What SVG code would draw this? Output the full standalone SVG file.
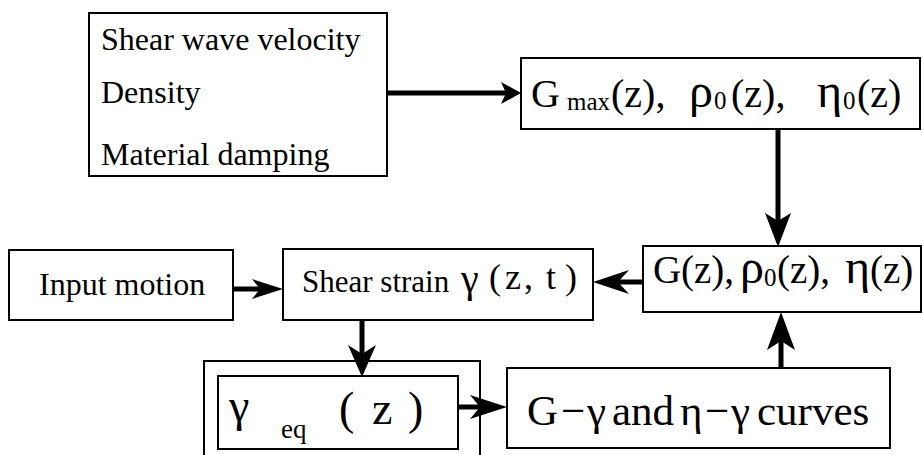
<svg xmlns="http://www.w3.org/2000/svg" width="922" height="455" viewBox="0 0 922 455">
<style>
.box{fill:#fff;stroke:#000;stroke-width:2}
text{font-family:'Liberation Serif','Times New Roman',serif;fill:#000}
.ln{stroke:#000;stroke-width:5;fill:none}
.hd{fill:#000;stroke:none}
.g{font-size:48px}
.s{font-size:25px}
</style>
<rect width="922" height="455" fill="#fff"/>
<g id="properties">
<rect class="box" x="89" y="13" width="298" height="163"/>
<text font-size="32" x="101" y="50">Shear wave velocity</text>
<text font-size="32" x="101" y="103">Density</text>
<text font-size="32" x="101" y="165">Material damping</text>
</g>
<g id="gmax">
<rect class="box" x="521" y="58" width="399" height="71"/>
<text font-size="40" y="107"><tspan x="531">G</tspan><tspan class="s" x="567" y="110">max</tspan><tspan x="611" y="107">(z),</tspan><tspan class="g" x="689">ρ</tspan><tspan class="s" x="714" y="109">0</tspan><tspan x="731" y="107">(z),</tspan><tspan class="g" x="817">η</tspan><tspan class="s" x="843" y="109">0</tspan><tspan x="857" y="107">(z)</tspan></text>
</g>
<g id="gz">
<rect class="box" x="643" y="246" width="278" height="66"/>
<text font-size="39" y="283"><tspan x="653">G</tspan><tspan x="681">(z),</tspan><tspan class="g" x="740">ρ</tspan><tspan class="s" x="764" y="286">0</tspan><tspan x="777" y="283">(z),</tspan><tspan class="g" x="845">η</tspan><tspan x="870">(z)</tspan></text>
</g>
<g id="input">
<rect class="box" x="9" y="250" width="224" height="70"/>
<text font-size="32" x="39" y="295">Input motion</text>
</g>
<g id="shear">
<rect class="box" x="283" y="249" width="310" height="71"/>
<text font-size="31" y="292"><tspan x="302">Shear strain</tspan><tspan x="461" font-size="40">γ</tspan><tspan x="489" y="289" font-size="36">(</tspan><tspan x="505" font-size="36">z</tspan><tspan x="524" font-size="36">,</tspan><tspan x="546" font-size="36">t</tspan><tspan x="565" font-size="36">)</tspan></text>
</g>
<g id="gammaeq">
<rect class="box" x="204" y="361" width="276" height="110"/>
<rect class="box" x="218" y="376" width="240" height="73"/>
<text font-size="46" y="423"><tspan x="229" y="421">γ</tspan><tspan x="281" y="438" font-size="27">eq</tspan><tspan x="339" y="424">(</tspan><tspan x="372">z</tspan><tspan x="408">)</tspan></text>
</g>
<g id="curves">
<rect class="box" x="507" y="368" width="383" height="80"/>
<text font-size="43" y="425"><tspan x="527">G</tspan><tspan x="561">−</tspan><tspan x="587">γ</tspan><tspan x="612">and</tspan><tspan x="680">η</tspan><tspan x="705">−</tspan><tspan x="731">γ</tspan><tspan x="757">curves</tspan></text>
</g>
<g id="connectors">
<line class="ln" x1="387" y1="93" x2="506" y2="93"/>
<path class="hd" d="M521,93 L501,82 L506,93 L501,104 Z"/>
<line class="ln" x1="778" y1="129" x2="778" y2="225"/>
<path class="hd" d="M778,247 L765,213 L778,221 L791,213 Z"/>
<line class="ln" x1="643" y1="282" x2="615" y2="282"/>
<path class="hd" d="M593,282 L629,270 L618,282 L629,294 Z"/>
<line class="ln" x1="233" y1="289" x2="262" y2="289"/>
<path class="hd" d="M283,289 L252,279 L260,289 L252,299 Z"/>
<line class="ln" x1="362" y1="320" x2="362" y2="355"/>
<path class="hd" d="M362,377 L348,345 L362,354 L376,345 Z"/>
<line class="ln" x1="458" y1="407" x2="485" y2="407"/>
<path class="hd" d="M507,407 L470,395 L480,407 L470,419 Z"/>
<line class="ln" x1="781" y1="368" x2="781" y2="336"/>
<path class="hd" d="M781,312 L767,350 L781,341 L795,350 Z"/>
</g>
</svg>
